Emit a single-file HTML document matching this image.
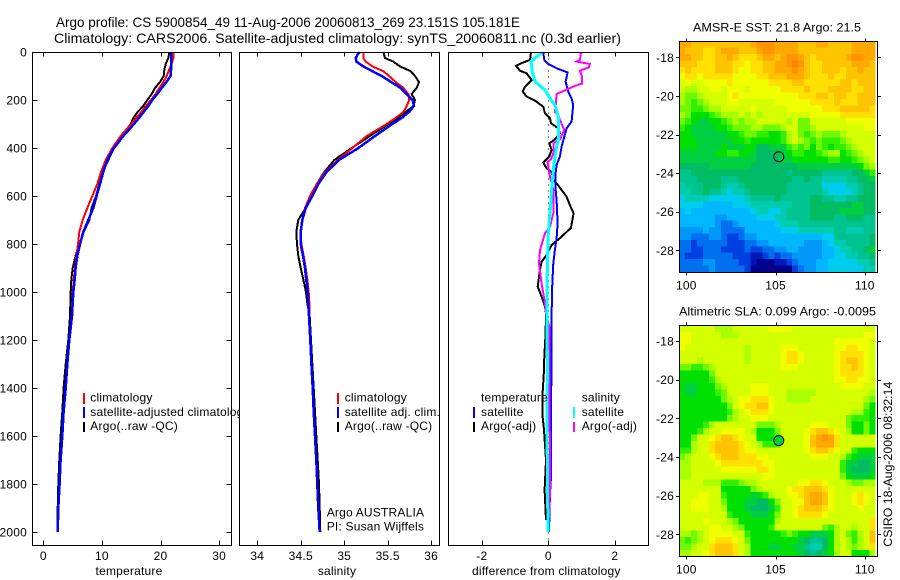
<!DOCTYPE html>
<html><head><meta charset="utf-8"><title>Argo profile</title>
<style>
html,body{margin:0;padding:0;background:#fff}
svg{display:block}
text{font-family:"Liberation Sans",sans-serif;font-size:12px;fill:#000;letter-spacing:.2px}
.t14{font-size:14px}
.fit{letter-spacing:0}
.line{fill:none;shape-rendering:crispEdges;stroke-linejoin:miter}
.crisp{shape-rendering:crispEdges}
</style></head><body>
<svg id="fig" xmlns="http://www.w3.org/2000/svg" width="900" height="580" viewBox="0 0 900 580">
<defs><clipPath id="p1clip"><rect x="0" y="0" width="240" height="580"/></clipPath></defs>
<rect width="900" height="580" fill="#fff"/>
<text class="t14 fit" x="56" y="27" textLength="464" lengthAdjust="spacingAndGlyphs">Argo profile: CS 5900854_49 11-Aug-2006 20060813_269 23.151S 105.181E</text>
<text class="t14 fit" x="54" y="43" textLength="567" lengthAdjust="spacingAndGlyphs">Climatology: CARS2006. Satellite-adjusted climatology: synTS_20060811.nc (0.3d earlier)</text>
<g id="panels"></g>
<g id="legends">
 <g clip-path="url(#p1clip)">
  <text x="90.3" y="401.7">climatology</text>
  <text x="90.3" y="416">satellite-adjusted climatology</text>
  <text x="90.3" y="430">Argo(..raw -QC)</text>
  <rect class="crisp" x="83" y="393" width="2" height="11" fill="#f00"/>
  <rect class="crisp" x="83" y="407" width="2" height="11" fill="#00f"/>
  <rect class="crisp" x="83" y="422" width="2" height="10" fill="#000"/>
 </g>
 <g>
  <text x="344.7" y="401.7">climatology</text>
  <text x="344.7" y="416">satellite adj. clim.</text>
  <text x="344.7" y="430">Argo(..raw -QC)</text>
  <rect class="crisp" x="337" y="393" width="2" height="11" fill="#f00"/>
  <rect class="crisp" x="337" y="407" width="2" height="11" fill="#00f"/>
  <rect class="crisp" x="337" y="422" width="2" height="10" fill="#000"/>
  <text x="326.7" y="516.7">Argo AUSTRALIA</text>
  <text x="326.7" y="530.7">PI: Susan Wijffels</text>
 </g>
 <g>
  <text x="481" y="401.7">temperature</text>
  <text x="481" y="416">satellite</text>
  <text x="481" y="430">Argo(-adj)</text>
  <text x="581.7" y="401.7">salinity</text>
  <text x="581.7" y="416">satellite</text>
  <text x="581.7" y="430">Argo(-adj)</text>
  <rect class="crisp" x="473" y="407" width="2" height="11" fill="#00f"/>
  <rect class="crisp" x="473" y="422" width="2" height="10" fill="#000"/>
  <rect class="crisp" x="573" y="407" width="2" height="11" fill="#0ff"/>
  <rect class="crisp" x="573" y="422" width="2" height="10" fill="#f0f"/>
 </g>
</g>
<text x="129" y="575" text-anchor="middle">temperature</text>
<text x="337" y="575" text-anchor="middle">salinity</text>
<text x="546.3" y="575" text-anchor="middle">difference from climatology</text>
<text class="fit" x="693" y="31.7" textLength="168" lengthAdjust="spacingAndGlyphs">AMSR-E SST: 21.8 Argo: 21.5</text>
<text class="fit" x="679" y="315.7" textLength="197" lengthAdjust="spacingAndGlyphs">Altimetric SLA: 0.099 Argo: -0.0095</text>
<text class="fit" transform="translate(892,546.7) rotate(-90)" textLength="165" lengthAdjust="spacingAndGlyphs">CSIRO 18-Aug-2006 08:32:14</text>
<g id="maps"></g>
</svg>
<script>
/* ---------- profile data ---------- */
const tempDepths=[0,25,50,75,100,125,150,175,200,225,250,275,300,350,400,450,500,550,600,650,700,750,800,850,900,950,1000,1100,1200,1300,1400,1500,1600,1700,1800,1900,2000];
const tempClim=[22.19,22.19,21.9,21.45,21.05,20.48,19.8,19.17,18.38,17.52,16.73,15.82,14.96,13.2,11.78,10.64,9.85,9.22,8.37,7.51,6.72,6.15,5.92,5.64,5.41,5.18,5.01,4.85,4.4,4.06,3.78,3.44,3.22,2.94,2.76,2.54,2.43];
const tempSat=[21.79,21.79,21.79,21.79,21.73,21.0,20.2,19.46,18.6,17.92,17.13,16.33,15.48,13.66,12.06,10.93,10.24,9.67,9.1,8.54,7.68,6.83,6.26,5.8,5.52,5.35,5.12,4.9,4.44,4.1,3.82,3.47,3.25,2.96,2.79,2.56,2.45];
const tempArgo=[21.51,21.34,20.88,20.65,20.54,19.91,19.06,18.49,17.75,17.07,16.1,15.36,14.91,13.37,12.06,11.1,10.13,9.56,8.99,8.25,7.85,6.9,6.2,5.5,5.01,4.78,4.67,4.56,4.27,3.82,3.47,3.25,2.96,2.73,2.56,2.45,2.39];

const salDepths=[0,10,25,40,60,80,100,125,150,175,200,225,250,275,300,350,400,450,500,550,600,650,700,750,800,850,900,950,1000,1050,1100,1200,1300,1400,1500,1600,1700,1800,1900,2000];
const salClim=[35.22,35.22,35.22,35.247,35.324,35.45,35.516,35.592,35.681,35.738,35.749,35.719,35.681,35.592,35.489,35.259,35.094,34.925,34.779,34.683,34.606,34.549,34.518,34.499,34.507,34.534,34.557,34.576,34.591,34.599,34.6,34.612,34.624,34.639,34.651,34.666,34.681,34.693,34.704,34.72];
const salSat=[35.182,35.155,35.132,35.14,35.22,35.324,35.431,35.539,35.65,35.719,35.788,35.803,35.746,35.661,35.554,35.354,35.163,34.94,34.798,34.702,34.633,34.557,34.518,34.499,34.499,34.526,34.549,34.564,34.58,34.587,34.595,34.61,34.622,34.637,34.649,34.664,34.679,34.691,34.702,34.718];
const salArgo=[35.458,35.458,35.469,35.565,35.642,35.765,35.815,35.861,35.834,35.776,35.815,35.796,35.707,35.615,35.508,35.297,35.086,34.886,34.771,34.683,34.618,34.557,34.472,34.449,34.457,34.472,34.499,34.53,34.56,34.576,34.603,34.618,34.633,34.649,34.664,34.679,34.695,34.71,34.718,34.725];

const diffTempArgoDepths=[3,33,47,58,78,89,117,144,165,186,203,228,256,276,297,318,339,364,381,408,436,461,485,499,533,547,571,603,638,672,733,776,804,846,874,908,978,1019,1061,1089,1172,1269,1325,1422,1506,1575,1700,1825,1950];
const diffTempArgo=[-0.52,-0.55,-0.82,-0.97,-0.85,-0.65,-0.5,-0.7,-0.77,-0.65,-0.4,-0.15,-0.1,0.05,0.08,0.3,0.35,0.2,0.03,0.1,0.03,-0.15,-0.05,0.1,0.15,0.25,0.38,0.55,0.65,0.76,0.68,0.35,0.1,-0.05,-0.2,-0.25,-0.32,-0.2,-0.1,-0.07,-0.08,-0.12,-0.13,-0.17,-0.18,-0.13,-0.07,-0.11,-0.07];
const diffTempSatDepths=[3,33,50,68,85,124,165,193,221,262,290,318,353,394,436,471,506,571,617,714,776,825,881,964,1089,1269,1353,1422,1769,1839,1999];
const diffTempSat=[-0.15,-0.12,0,0.25,0.58,0.52,0.6,0.7,0.75,0.72,0.7,0.55,0.48,0.4,0.35,0.25,0.22,0.22,0.25,0.28,0.25,0.2,0.15,0.12,0.1,0.1,0.1,0.08,0.08,0.05,0.02];
const diffSalArgoDepths=[3,33,40,50,64,78,103,131,144,175,228,249,262,283,325,364,381,422,447,457,519,575,672,728,756,825,881,964,1047,1089,1144,1242,1353,1700,1839,1978];
const diffSalArgo=[0.98,0.95,0.85,1.25,1.22,0.95,1.02,1.02,0.75,0.25,0.22,0.2,0.3,0.35,0.48,0.35,0.15,0.15,0.08,-0.02,0.05,0.15,0.15,0.05,-0.1,-0.25,-0.28,-0.2,-0.1,-0.07,0.03,0.03,0.03,0.05,0.05,0];
const diffSalSatDepths=[3,19,40,82,124,158,193,221,269,325,367,394,436,492,571,617,672,756,853,978,1089,1269,1353,1561,1839,1999];
const diffSalSat=[-0.2,-0.35,-0.52,-0.48,-0.4,-0.1,0.05,0.2,0.3,0.3,0.3,0.25,0.2,0.15,0.1,0.08,0.05,0,-0.02,-0.04,-0.04,-0.03,-0.03,-0.04,-0.02,-0.01];

/* ---------- tick labels ---------- */
const depthTicks=[0,200,400,600,800,1000,1200,1400,1600,1800,2000];
const tempTicks=[0,10,20,30];
const salTicks=[34,34.5,35,35.5,36];
const diffTicks=[-2,0,2];
const lonTicks=[100,105,110];
const latTicks=[18,20,22,24,26,28];

/* ---------- map grids (colour-level per 1/3 degree cell) ---------- */
const sstGrid=[
[19,19,18,18,18,18,18,18,18,18,18,18,19,20,20,20,19,19,19,19,18,18,18,19,19,18,18,18,18,19,19,19,19],
[19,18,18,18,17,17,18,19,19,19,18,18,18,19,20,20,19,19,19,19,18,18,18,18,18,18,18,18,18,19,19,19,19],
[19,19,18,18,17,17,18,18,19,18,17,17,17,18,19,19,18,19,20,20,19,18,17,18,18,18,18,18,19,20,20,19,19],
[18,18,18,17,17,17,18,18,18,17,17,16,17,17,18,18,19,19,20,21,20,18,17,17,18,18,18,18,18,19,19,19,18],
[17,18,17,17,17,17,18,18,18,17,16,16,17,17,18,18,19,19,19,20,19,18,17,17,18,18,18,17,18,18,19,18,18],
[16,17,17,16,17,17,17,17,17,16,16,16,16,17,17,18,18,18,19,19,19,18,17,17,17,18,17,17,18,18,18,18,18],
[15,16,15,15,16,16,16,16,17,16,16,16,16,16,16,17,17,17,17,18,18,17,17,17,17,17,17,18,18,17,18,18,18],
[15,14,14,15,15,16,16,15,16,16,16,15,16,16,16,16,16,17,17,17,17,18,17,17,17,18,18,18,18,17,17,18,18],
[14,13,13,14,15,15,15,15,16,17,16,16,16,16,16,16,16,16,16,16,17,17,17,18,18,17,18,18,17,17,18,18,18],
[14,13,12,13,14,15,15,15,16,16,15,15,15,15,15,15,16,16,16,16,16,16,17,17,17,17,18,17,17,17,18,18,18],
[13,13,12,12,13,14,14,15,15,15,15,15,16,15,15,15,15,15,16,16,16,16,16,16,17,17,17,18,18,18,18,18,17],
[14,13,11,11,11,12,13,14,14,14,15,14,15,14,15,15,15,15,15,15,15,15,16,16,16,16,16,17,17,17,17,17,17],
[13,12,11,10,10,11,11,12,13,14,13,14,14,15,15,15,15,15,14,15,13,13,15,15,15,15,15,15,16,16,16,16,16],
[12,11,10,10,10,10,11,11,12,13,13,13,14,14,13,13,13,14,15,15,13,13,14,15,15,15,15,15,15,15,15,16,16],
[11,11,10,10,10,10,10,10,11,11,12,13,13,12,12,11,11,12,14,15,13,12,13,14,13,13,13,14,15,15,15,15,15],
[11,11,11,10,10,10,10,10,10,11,11,12,11,11,11,11,11,12,14,15,14,13,12,13,12,12,12,13,14,15,15,15,15],
[11,11,11,10,10,10,10,11,10,10,10,11,11,9,9,10,10,10,12,13,12,13,11,13,12,11,12,12,13,14,15,15,15],
[10,10,10,10,10,10,11,11,12,12,11,11,10,9,9,9,9,10,11,12,12,11,11,12,13,14,14,11,12,13,14,15,15],
[10,10,10,10,10,10,10,10,10,10,10,10,10,9,9,9,9,10,10,11,11,11,11,11,11,12,12,11,11,12,13,14,15],
[9,9,9,9,9,10,10,10,10,10,10,10,9,9,9,9,9,9,9,9,10,10,10,10,10,10,10,10,10,10,11,13,14],
[8,8,9,9,9,9,9,9,9,9,9,9,9,9,9,9,9,9,8,9,9,9,9,9,8,8,8,8,8,9,9,10,12],
[8,8,8,9,9,9,9,8,8,8,9,9,9,9,9,9,9,9,9,8,8,9,8,8,7,7,7,7,8,8,9,9,10],
[7,8,8,8,9,9,9,8,7,7,8,9,9,9,9,9,9,9,8,8,8,8,8,8,6,6,6,6,7,7,8,9,9],
[7,7,8,8,9,8,8,7,6,7,7,8,9,9,9,9,9,9,8,8,8,8,8,8,7,6,6,6,6,7,8,9,9],
[6,7,7,7,7,6,6,6,6,6,6,7,8,8,8,8,9,8,8,8,8,8,9,9,8,8,7,7,8,8,9,9,9],
[6,6,6,6,5,5,5,5,5,6,6,6,7,7,7,7,7,7,7,8,8,8,9,9,9,9,9,9,9,10,10,9,9],
[5,6,5,5,5,5,5,5,5,5,5,5,6,7,7,6,6,7,8,8,8,8,9,9,9,9,9,10,10,10,10,9,9],
[5,5,5,5,5,5,4,4,5,5,5,5,5,6,6,6,7,7,8,8,8,8,9,9,9,9,8,8,9,9,9,8,8],
[5,5,5,5,5,5,4,3,3,4,5,5,5,5,5,5,6,7,7,7,8,8,8,8,8,8,8,8,8,8,8,8,8],
[4,4,4,4,5,4,4,3,3,3,3,5,5,5,5,5,5,6,6,6,7,7,7,7,7,7,8,8,7,7,7,8,8],
[4,4,3,3,3,4,4,3,2,2,3,4,4,5,5,5,5,5,5,5,5,5,5,5,6,6,8,8,8,8,8,8,9],
[3,3,2,3,3,3,3,3,2,2,2,3,3,4,4,5,5,5,5,5,5,4,4,4,5,6,7,7,8,8,8,8,9],
[3,3,2,2,3,3,3,2,2,2,2,3,2,2,3,3,4,4,5,5,4,4,4,4,5,5,6,7,7,8,8,9,10],
[3,2,2,2,3,3,3,3,3,2,2,2,1,1,2,3,2,3,3,4,4,4,4,4,5,5,6,6,7,7,8,8,9],
[3,3,3,3,4,4,3,3,3,3,2,2,1,0,0,0,1,1,2,3,4,4,4,5,5,6,6,6,6,6,7,7,8],
[3,3,3,3,3,4,3,3,3,3,3,2,0,0,0,0,0,0,0,2,3,4,4,5,5,6,6,6,6,6,6,7,7]
];
const slaGrid=[
[15,15,15,15,15,15,14,14,14,15,15,15,15,15,15,16,16,16,16,15,15,15,15,15,15,15,15,15,15,15,15,15,15],
[16,16,15,15,15,15,15,14,14,14,15,15,15,15,15,15,15,15,15,15,15,15,15,15,15,15,15,15,15,15,15,16,16],
[16,16,15,15,15,15,15,15,15,15,15,15,15,15,15,15,15,15,15,15,15,15,15,15,15,15,16,16,16,16,16,16,15],
[16,15,15,15,15,15,15,15,15,15,15,14,15,15,15,15,15,16,16,16,15,15,15,15,15,15,16,16,17,17,16,16,15],
[15,15,15,15,15,15,15,15,15,15,15,14,15,15,15,15,15,16,17,17,16,15,15,15,15,15,16,17,17,17,17,16,15],
[15,15,15,14,15,15,15,15,15,15,15,14,15,15,15,15,15,16,17,17,16,15,15,15,15,15,16,17,18,18,17,16,15],
[13,13,12,12,13,14,15,15,15,15,15,15,15,15,15,15,15,16,16,16,15,15,15,15,15,15,16,17,17,18,17,16,15],
[11,11,11,11,11,13,15,15,15,15,15,15,15,15,15,15,15,15,15,15,15,15,15,15,15,15,16,17,17,17,17,16,15],
[11,11,11,11,11,12,14,15,15,15,15,15,15,15,15,15,15,15,15,15,15,15,15,15,15,15,16,16,17,17,16,16,15],
[11,10,10,11,11,11,13,14,15,15,15,15,16,16,16,15,15,15,15,15,15,15,15,15,15,15,15,16,16,16,16,15,15],
[11,10,10,11,11,11,12,13,15,15,15,15,16,16,16,15,15,15,14,14,14,14,14,15,15,15,15,15,15,15,15,15,14],
[11,11,11,11,11,11,11,13,14,15,16,16,17,17,17,16,15,15,14,14,14,14,15,15,15,15,15,15,15,15,15,14,13],
[11,11,11,11,11,11,11,11,13,15,16,17,17,18,18,16,15,15,15,15,15,15,15,15,15,15,15,15,15,15,15,13,11],
[11,11,11,11,11,11,11,11,12,14,15,16,17,17,17,16,15,15,15,15,15,15,15,15,15,15,15,15,15,14,14,12,11],
[11,11,11,11,11,11,11,11,13,14,15,15,16,16,16,15,15,15,15,15,15,15,15,15,15,15,15,15,13,12,12,12,11],
[11,11,11,11,12,14,15,15,15,15,15,15,15,13,13,13,14,15,15,15,15,15,16,16,16,15,15,15,13,11,11,13,11],
[11,11,11,12,14,15,15,16,16,16,16,15,14,11,11,11,13,15,15,15,15,16,17,18,18,17,16,15,14,11,11,13,11],
[11,11,13,15,15,16,17,18,18,17,16,15,15,11,11,11,12,15,15,15,15,16,18,19,20,19,17,15,15,15,15,15,15],
[11,11,14,15,15,17,18,18,18,18,17,16,15,14,12,12,12,15,15,15,15,16,18,19,19,19,17,15,15,15,15,15,15],
[12,12,14,15,15,17,18,18,18,18,17,16,16,15,15,15,15,15,15,15,15,16,17,18,18,17,16,15,15,12,11,11,11],
[13,14,15,15,15,16,17,18,18,18,17,17,17,16,16,15,15,15,15,15,15,15,16,16,16,15,15,14,12,11,10,10,10],
[14,14,15,15,15,15,16,17,17,17,17,17,17,17,16,16,15,15,15,15,15,15,15,15,15,15,15,12,10,10,9,9,10],
[14,14,15,15,15,15,15,16,16,16,16,16,16,17,17,16,15,15,15,15,15,15,15,15,15,15,15,12,10,9,9,9,10],
[14,14,15,15,15,15,15,15,15,15,15,15,15,15,16,16,15,15,15,15,15,15,15,15,15,15,15,13,11,10,10,10,11],
[15,15,15,15,14,14,14,12,12,12,13,14,14,15,15,15,15,15,15,15,16,16,17,17,16,15,15,15,14,13,13,14,14],
[15,15,15,15,15,15,15,11,11,11,11,11,13,14,15,15,15,15,16,17,17,18,18,18,17,16,15,15,15,15,15,15,15],
[15,15,15,16,16,15,15,12,11,11,11,11,10,11,12,14,15,15,16,16,17,18,19,19,18,16,15,15,15,16,17,16,15],
[15,15,16,16,16,15,15,13,11,11,11,10,10,9,9,11,13,15,15,16,16,18,19,19,18,16,15,15,15,16,17,16,15],
[15,15,16,16,16,15,15,14,11,11,11,10,9,9,9,10,12,15,15,16,17,18,18,18,17,16,15,15,15,15,16,15,15],
[15,15,15,15,15,15,15,15,12,11,11,11,10,10,10,11,13,15,15,16,17,17,17,17,16,15,15,15,15,15,15,15,15],
[15,15,15,15,16,15,15,15,14,13,11,11,11,11,11,11,14,15,15,15,15,15,15,15,15,15,15,15,15,15,15,15,17],
[15,15,15,15,15,16,16,15,15,14,13,11,11,11,11,12,15,15,15,15,15,15,15,15,13,12,14,15,15,14,15,15,17],
[14,14,13,14,15,16,16,16,16,15,15,12,11,11,11,11,11,12,13,12,11,11,10,10,10,11,14,15,13,12,14,15,18],
[13,12,13,14,15,16,17,17,17,16,15,13,11,11,11,11,11,11,11,11,10,9,8,8,9,11,14,15,14,12,14,15,18],
[13,13,14,15,15,17,18,18,18,17,15,14,11,11,11,10,10,11,11,10,10,8,7,7,9,11,14,15,14,13,14,15,17],
[14,14,15,15,16,17,18,18,18,17,15,14,11,11,11,11,11,11,11,11,10,9,8,9,10,11,14,15,15,11,11,11,14]
];
/* float position */
const floatLon=105.181;
const floatLat=23.151;

/* ---------- colour scale ---------- */
const colorRamp=['#00008c','#0018b8','#0040e0','#0070f0','#0098f8','#00b8ff','#00ccee','#00ccb0','#00c490','#00bc64','#00d040','#00e000','#30f000','#70f800','#a8ff00','#d4ff00','#f0ff00','#ffe000','#ffc400','#ffa800','#ff9400','#ff8000'];

/* ---------- axis functions ---------- */
const depthY=d=>52+0.24*d;
const tempX=v=>43.3+5.86*v;
const salX=v=>257.3+86.9*(v-34);
const diffX=v=>548.3+33.25*v;
const lonX=l=>686.3+17.85*(l-100);
const sstLatY=l=>57.3+19.3*(l-18);
const slaLatY=l=>341+19.33*(l-18);

const NS='http://www.w3.org/2000/svg';
function make(tag,parent,attrs){
  const el=document.createElementNS(NS,tag);
  for(const k in attrs)el.setAttribute(k,attrs[k]);
  parent.appendChild(el);
  return el;
}
function seg(parent,x1,y1,x2,y2){
  const el=make('line',parent,{x1,y1,x2,y2,stroke:'#000','stroke-width':1,'class':'crisp'});
  
  
}
function label(parent,x,y,anchor,txt){
  const el=make('text',parent,{x,y,'text-anchor':anchor});
  el.textContent=txt;
  
  
}
function series(parent,name,xf,depths,vals,color,w){
  const pts=depths.map((d,i)=>xf(vals[i]).toFixed(1)+','+depthY(d).toFixed(1)).join(' ');
  const el=make('polyline',parent,{points:pts,stroke:color,'stroke-width':w,'class':'line'});
  
  
}
function frame(parent,name,x0,x1,y0,y1){
  const el=make('rect',parent,{x:x0,y:y0,width:x1-x0,height:y1-y0,fill:'none',stroke:'#000','stroke-width':1,'class':'crisp'});
  
  
}
function fmt(v){return String(v);}

const panels=document.getElementById('panels');
const Y0=52.5,Y1=545.5;
function panel(name,x0,x1,xf,xticks,withY,draw){
  const g=make('g',panels,{});
  
  
  make('rect',g,{x:x0,y:Y0,width:x1-x0,height:Y1-Y0,fill:'#fff'});
  draw(g);
  frame(g,name+'-frame',x0,x1,Y0,Y1);
  xticks.forEach(t=>{
    const x=Math.round(xf(t))+0.5;
    seg(g,x,Y0,x,Y0+4);
    seg(g,x,Y1-5,x,Y1);
    label(g,xf(t),560,'middle',fmt(t));
  });
  if(withY){
    depthTicks.forEach(d=>{
      const y=Math.round(depthY(d))+0.5;
      seg(g,x0,y,x0+5,y);
      seg(g,x1-5,y,x1,y);
      label(g,27,depthY(d)+4.5,'end',fmt(d));
    });
  }
}
panel('temperature-panel',32.5,231.5,tempX,tempTicks,true,g=>{
  series(g,'temperature-argo-line',tempX,tempDepths,tempArgo,'#000',2);
  series(g,'temperature-climatology-line',tempX,tempDepths,tempClim,'#f00',2);
  series(g,'temperature-satellite-line',tempX,tempDepths,tempSat,'#00f',2.5);
});
panel('salinity-panel',239.5,439.5,salX,salTicks,false,g=>{
  series(g,'salinity-argo-line',salX,salDepths,salArgo,'#000',2);
  series(g,'salinity-climatology-line',salX,salDepths,salClim,'#f00',2);
  series(g,'salinity-satellite-line',salX,salDepths,salSat,'#00f',2.5);
});
panel('difference-panel',448.5,648.5,diffX,diffTicks,false,g=>{
  const z=make('line',g,{x1:Math.round(diffX(0))+0.5,y1:Y0,x2:Math.round(diffX(0))+0.5,y2:Y1,stroke:'#000','stroke-width':1,'stroke-dasharray':'1 5','class':'crisp'});
  
  
  series(g,'diff-temperature-argo-line',diffX,diffTempArgoDepths,diffTempArgo,'#000',2);
  series(g,'diff-temperature-satellite-line',diffX,diffTempSatDepths,diffTempSat,'#00f',2);
  series(g,'diff-salinity-argo-line',diffX,diffSalArgoDepths,diffSalArgo,'#f0f',2);
  series(g,'diff-salinity-satellite-line',diffX,diffSalSatDepths,diffSalSat,'#0ff',3);
});
/* keep legends above panel backgrounds */
document.getElementById('fig').insertBefore(panels,document.getElementById('legends'));

const maps=document.getElementById('maps');
function map(name,grid,latY,y0,y1,labelY,lat0,markerFill){
  const g=make('g',maps,{});
  
  
  const lon0=99.6,step=1/3,latStep=0.332;
  grid.forEach((row,r)=>{
    row.forEach((v,c)=>{
      const x=lonX(lon0+c*step),xe=lonX(lon0+(c+1)*step);
      const y=latY(lat0+r*latStep),ye=latY(lat0+(r+1)*latStep);
      const cell=make('rect',g,{x:x.toFixed(2),y:y.toFixed(2),width:(xe-x).toFixed(2),height:(ye-y).toFixed(2),fill:colorRamp[v]||'#d4ff00','class':'crisp'});
      
      
    });
  });
  frame(g,name+'-frame',679.5,877.5,y0,y1);
  lonTicks.forEach(t=>{
    const x=Math.round(lonX(t))+0.5;
    seg(g,x,y0-3,x,y0);
    seg(g,x,y1,x,y1+3);
    label(g,lonX(t),labelY,'middle',fmt(t));
  });
  latTicks.forEach(t=>{
    const y=Math.round(latY(t))+0.5;
    seg(g,676,y,679.5,y);
    seg(g,877.5,y,881,y);
    label(g,674,latY(t)+4.5,'end','-'+t);
  });
  const m=make('circle',g,{cx:lonX(floatLon).toFixed(1),cy:latY(floatLat).toFixed(1),r:5,fill:markerFill,stroke:'#000','stroke-width':1});
  
  
}
map('sst-map',sstGrid,sstLatY,41.5,272.5,289.3,17.17,'none');
map('sla-map',slaGrid,slaLatY,325.5,556.5,573.3,17.19,'#00d040');
</script>
</body></html>
